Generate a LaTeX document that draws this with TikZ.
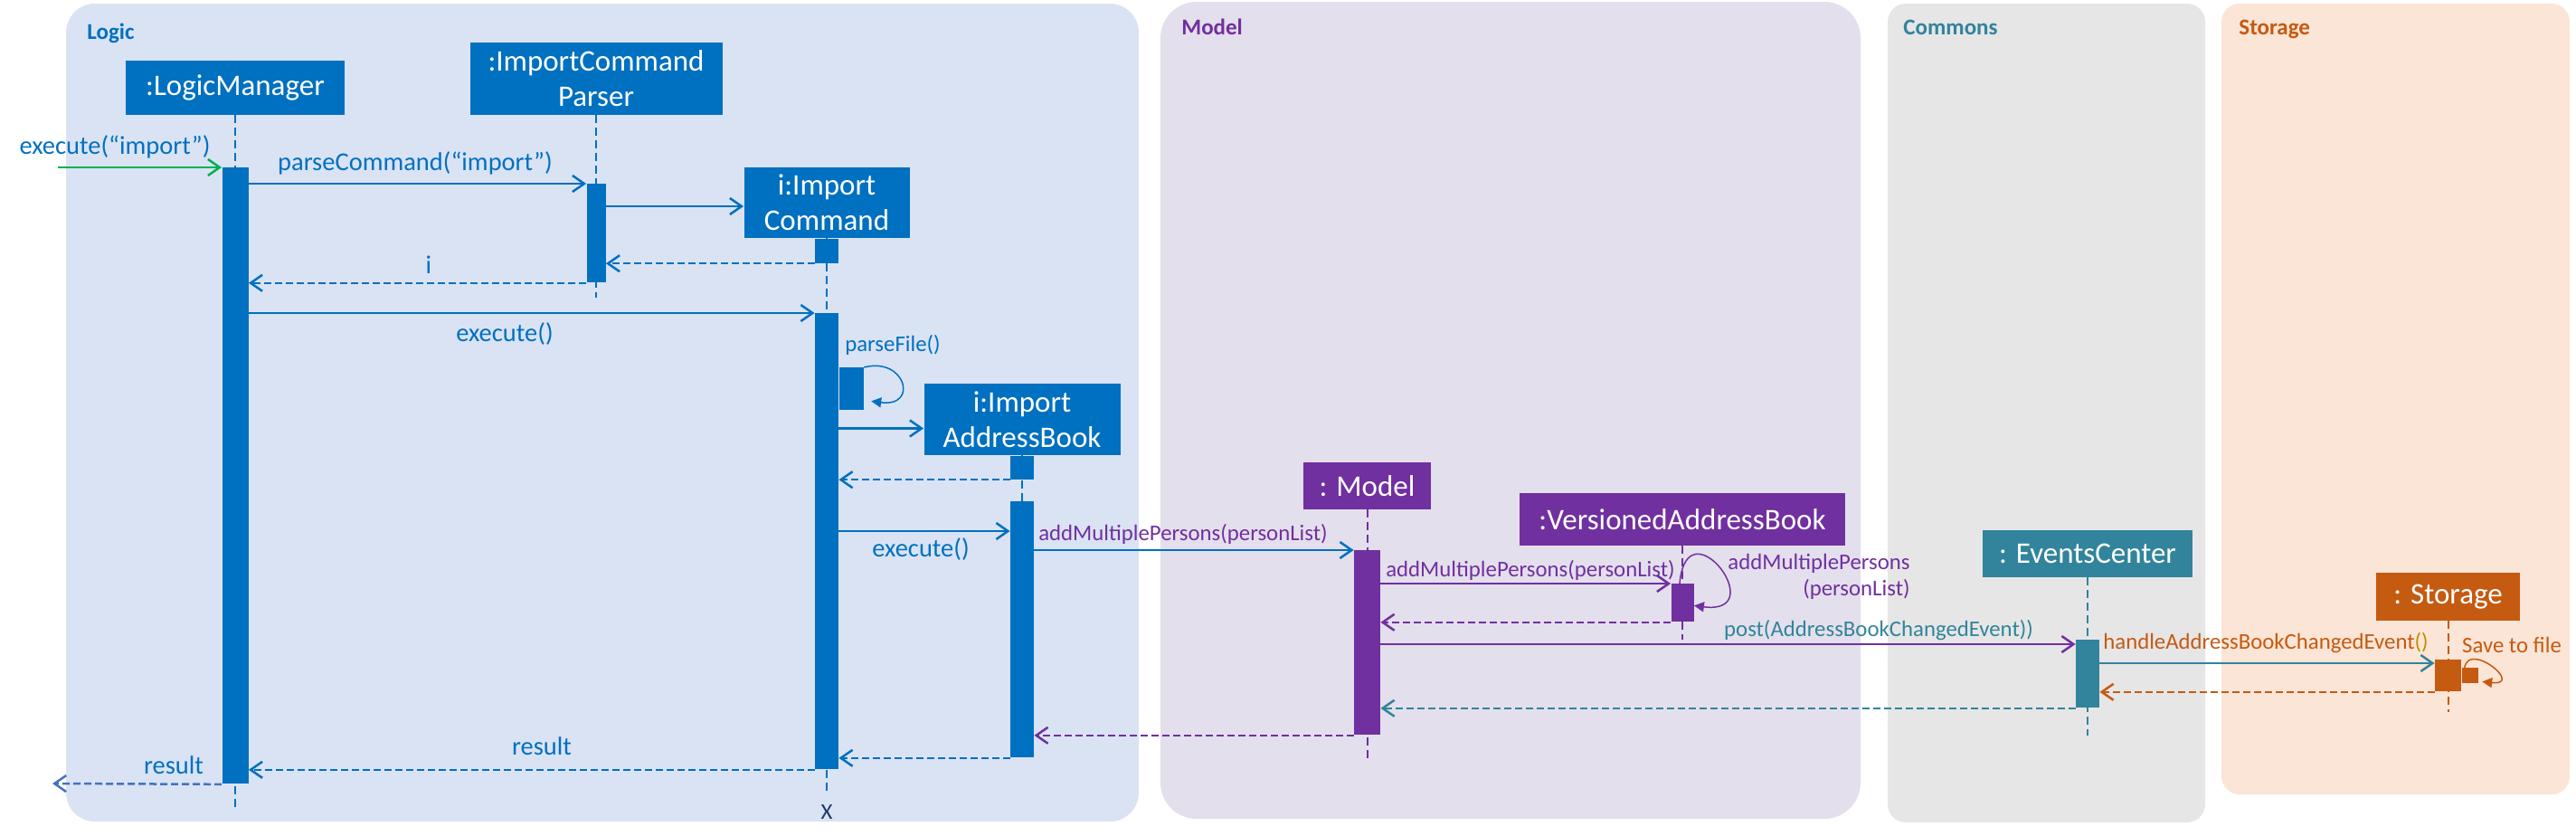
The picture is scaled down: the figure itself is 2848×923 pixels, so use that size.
\documentclass[tikz,border=0pt]{standalone}
\usepackage{fontspec}
\setmainfont{Carlito}
\usetikzlibrary{arrows.meta, positioning}

\definecolor{logicblue}{HTML}{0070C0}
\definecolor{modelpurple}{HTML}{7030A0}
\definecolor{commonsteal}{HTML}{31849B}
\definecolor{storageorange}{HTML}{C55A11}
\definecolor{callgreen}{HTML}{00B050}
\definecolor{resultblue}{HTML}{4472C4}
\definecolor{endnavy}{HTML}{1F3864}
\definecolor{parengold}{HTML}{BF9000}
\definecolor{logicbg}{HTML}{DAE3F3}
\definecolor{modelbg}{HTML}{E4DFEC}
\definecolor{commonsbg}{HTML}{E6E6E6}
\definecolor{storagebg}{HTML}{FBE5D6}

\tikzset{
  panel/.style={rectangle, draw=none, inner sep=0pt},
  panellabel/.style={font=\fontsize{12.5}{15}\selectfont\bfseries, inner sep=0pt, anchor=base west},
  object/.style={rectangle, fill=#1, text=white, align=center, inner sep=0pt, font=\fontsize{16.5}{19.5}\selectfont},
  actbar/.style={rectangle, fill=#1, inner sep=0pt, minimum width=13pt, anchor=north},
  lifeline/.style={draw=#1, line width=1pt, dash pattern=on 4.5pt off 2.5pt},
  msg/.style={draw=#1, line width=1.25pt, -{Straight Barb[length=6.5pt,width=9pt]}},
  ret/.style={msg=#1, dash pattern=on 4pt off 2pt},
  selfcall/.style={draw=#1, line width=0.75pt, -{Triangle[length=5.5pt,width=5.5pt]}},
  biglbl/.style={text=#1, inner sep=0pt, font=\fontsize{14.25}{17}\selectfont},
  smalllbl/.style={text=#1, inner sep=0pt, font=\fontsize{12.4}{14.5}\selectfont}
}

\begin{document}
\begin{tikzpicture}[x=0.5pt, y=-0.5pt]
\useasboundingbox (0,0) rectangle (2848,923);

% Layers
\node[panel, fill=logicbg, rounded corners=16pt, minimum width=593pt, minimum height=452pt] (logic) at (666,456) {};
\node[panel, fill=modelbg, rounded corners=20pt, minimum width=387pt, minimum height=451.5pt] (model) at (1670,453.5) {};
\node[panel, fill=commonsbg, rounded corners=10pt, minimum width=175.5pt, minimum height=452.5pt] (commons) at (2262.5,456.5) {};
\node[panel, fill=storagebg, rounded corners=10pt, minimum width=192.5pt, minimum height=437pt] (storage) at (2648.5,441) {};

\node[panellabel, text=logicblue] (logicLbl) at (96,43) {Logic};
\node[panellabel, text=modelpurple] (modelLbl) at (1306,38) {Model};
\node[panellabel, text=commonsteal] (commonsLbl) at (2104,38) {Commons};
\node[panellabel, text=storageorange] (storageLbl) at (2475,38) {Storage};

% Objects
\node[object=logicblue, minimum width=121pt, minimum height=30pt] (lm) at (260,97) {:LogicManager};
\node[object=logicblue, minimum width=139.5pt, minimum height=40pt] (icp) at (659,87) {:ImportCommand\\Parser};
\node[object=logicblue, minimum width=91.5pt, minimum height=39pt] (ic) at (914,224) {i:Import\\Command};
\node[object=logicblue, minimum width=108.5pt, minimum height=39.5pt] (iab) at (1130,463.5) {i:Import\\AddressBook};
\node[object=modelpurple, minimum width=70.5pt, minimum height=26pt] (md) at (1511.5,537) {: Model};
\node[object=modelpurple, minimum width=180pt, minimum height=29pt] (vab) at (1860,574) {:VersionedAddressBook};
\node[object=commonsteal, minimum width=116pt, minimum height=26pt] (ec) at (2308,612) {: EventsCenter};
\node[object=storageorange, minimum width=79.5pt, minimum height=26.5pt] (st) at (2706.5,659.5) {: Storage};

% Lifelines
\coordinate (lmEnd) at (260,896);
\coordinate (icpEnd) at (659,329);
\coordinate (icEnd) at (914,879);
\coordinate (iabEnd) at (1130,837);
\coordinate (mdEnd) at (1511.5,843);
\coordinate (vabEnd) at (1860,707);
\coordinate (ecEnd) at (2308,813);
\coordinate (stEnd) at (2706.5,787);
\draw[lifeline=logicblue] (lm.south) -- (lmEnd);
\draw[lifeline=logicblue] (icp.south) -- (icpEnd);
\draw[lifeline=logicblue] (ic.south) -- (icEnd);
\draw[lifeline=logicblue] (iab.south) -- (iabEnd);
\draw[lifeline=modelpurple] (md.south) -- (mdEnd);
\draw[lifeline=modelpurple] (vab.south) -- (vabEnd);
\draw[lifeline=commonsteal] (ec.south) -- (ecEnd);
\draw[lifeline=storageorange] (st.south) -- (stEnd);

% Activation bars
\node[actbar=logicblue, minimum width=14.5pt, minimum height=340.5pt] (lmA) at (260,185) {};
\node[actbar=logicblue, minimum width=10.5pt, minimum height=54.5pt] (icpA) at (659,203) {};
\node[actbar=logicblue, minimum height=13.5pt] (icA) at (ic.south) {};
\node[actbar=logicblue, minimum height=252pt] (icB) at (914,346) {};
\node[actbar=logicblue, minimum width=13.5pt, minimum height=23.5pt, anchor=north west] (pfA) at ([yshift=-30pt]icB.north east) {};
\node[actbar=logicblue, minimum height=13pt] (iabA) at (iab.south) {};
\node[actbar=logicblue, minimum height=141.5pt] (iabB) at (1130,554) {};
\node[actbar=modelpurple, minimum width=14.5pt, minimum height=102pt] (mdA) at (1511.5,608) {};
\node[actbar=modelpurple, minimum width=12.5pt, minimum height=21pt] (vabA) at (1860,645) {};
\node[actbar=commonsteal, minimum height=37.5pt] (ecA) at (2308,707) {};
\node[actbar=storageorange, minimum width=14.5pt, minimum height=17.5pt] (stA) at (2706.5,729) {};
\node[actbar=storageorange, minimum width=9pt, minimum height=8.5pt, anchor=north west] (stB) at ([yshift=-4.5pt]stA.north east) {};

% Calls
\coordinate (inStart) at (64,185);
\draw[msg=callgreen] (inStart) -- (lmA.north west);
\draw[msg=logicblue] (lmA.east |- icpA.north) -- (icpA.north west);
\coordinate (newCmd) at ([yshift=-2pt]ic.west);
\draw[msg=logicblue] (icpA.east |- newCmd) -- (newCmd);
\draw[ret=logicblue] (icA.south west) -- (icpA.east |- icA.south west);
\draw[ret=logicblue] (icpA.south west) -- (lmA.east |- icpA.south west);
\draw[msg=logicblue] (lmA.east |- icB.north west) -- (icB.north west);
\draw[selfcall=logicblue] (pfA.north east) .. controls +(23pt,6pt) and +(26.5pt,-3.5pt) .. ([shift={(4pt,-6.75pt)}]pfA.east);
\coordinate (newBook) at ([yshift=-5pt]iab.west);
\draw[msg=logicblue] (icB.east |- newBook) -- (newBook);
\draw[ret=logicblue] (iabA.south west) -- (icB.east |- iabA.south west);
\coordinate (execTwo) at ([yshift=-16.5pt]iabB.north west);
\draw[msg=logicblue] (icB.east |- execTwo) -- (execTwo);
\draw[msg=logicblue] (iabB.east |- mdA.north west) -- (mdA.north west);
\draw[msg=modelpurple] (mdA.east |- vabA.north west) -- (vabA.north west);
\draw[selfcall=modelpurple] ([xshift=-1.5pt]vabA.north) .. controls +(4pt,45pt) and +(43.5pt,-5.5pt) .. ([yshift=-1.5pt]vabA.east);
\draw[ret=modelpurple] (vabA.south west) -- (mdA.east |- vabA.south west);
\coordinate (postAt) at ([yshift=-2.5pt]ecA.north west);
\draw[msg=modelpurple] (mdA.east |- postAt) -- (postAt);
\coordinate (handleAt) at ([yshift=-2pt]stA.north west);
\draw[msg=commonsteal] (ecA.east |- handleAt) -- (handleAt);
\draw[selfcall=storageorange] ([xshift=-3pt]stB.north) .. controls +(2.5pt,15pt) and +(23.5pt,-2.5pt) .. ([shift={(2pt,-3.25pt)}]stB.east);

% Returns
\draw[ret=storageorange] (stA.south west) -- (ecA.east |- stA.south west);
\draw[ret=commonsteal] (ecA.south west) -- (mdA.east |- ecA.south west);
\draw[ret=modelpurple] (mdA.south west) -- (iabB.east |- mdA.south west);
\draw[ret=logicblue] (iabB.south west) -- (icB.east |- iabB.south west);
\draw[ret=logicblue] (icB.south west) -- (lmA.east |- icB.south west);
\coordinate (outEnd) at (58,866);
\draw[ret=resultblue] (lmA.south west) -- (outEnd);

% Message labels
\node[biglbl=logicblue] (lblInit) at (127,162) {execute(“import”)};
\node[biglbl=logicblue] (lblParse) at (459,180) {parseCommand(“import”)};
\node[biglbl=logicblue] (lblI) at (474,293) {i};
\node[biglbl=logicblue] (lblExecA) at (558,369) {execute()};
\node[smalllbl=logicblue] (lblParseFile) at (987,381) {parseFile()};
\node[biglbl=logicblue] (lblExecB) at (1018,607) {execute()};
\node[smalllbl=modelpurple] (lblAddA) at (1308,590) {addMultiplePersons(personList)};
\node[smalllbl=modelpurple] (lblAddB) at (1692,630) {addMultiplePersons(personList)};
\node[smalllbl=modelpurple, align=right, anchor=east] (lblAddSelf) at (2112,637) {addMultiplePersons\\(personList)};
\node[smalllbl=commonsteal] (lblPost) at (2077,697) {post(AddressBookChangedEvent))};
\node[smalllbl=storageorange] (lblHandle) at (2505,711) {handleAddressBookChangedEvent{\color{parengold}()}};
\node[smalllbl=storageorange] (lblSave) at (2777,713) {Save to file};
\node[biglbl=logicblue] (lblResA) at (599,825) {result};
\node[biglbl=logicblue] (lblResB) at (192,846) {result};
\node[smalllbl=endnavy, below=5pt of icEnd] (endX) {X};
\end{tikzpicture}
\end{document}
